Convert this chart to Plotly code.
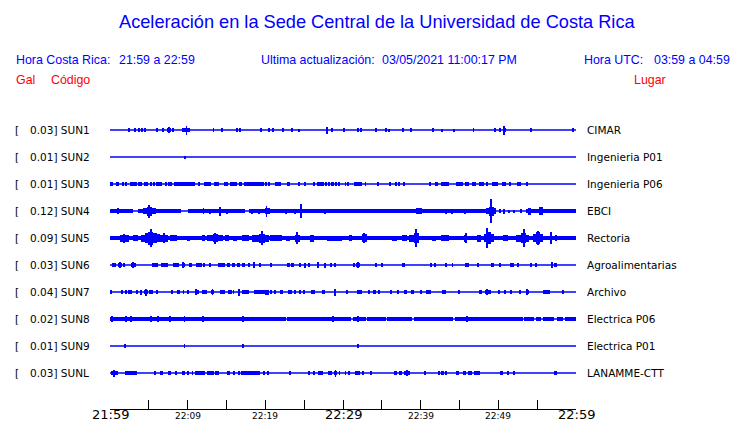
import plotly.graph_objects as go

# ---------------- data ----------------
STATIONS = ["SUN1", "SUN2", "SUN3", "SUN4", "SUN5", "SUN6", "SUN7", "SUN8", "SUN9", "SUNL"]
SCALES = ["0.03", "0.01", "0.01", "0.12", "0.09", "0.03", "0.04", "0.02", "0.01", "0.03"]
PLACES = ["CIMAR", "Ingenieria P01", "Ingenieria P06", "EBCI", "Rectoria",
          "Agroalimentarias", "Archivo", "Electrica P06", "Electrica P01", "LANAMME-CTT"]

TICK_MINUTES = [0, 5, 10, 15, 20, 25, 30, 35, 40, 45, 50, 55, 60]
LABEL_MINUTES = [0, 10, 20, 30, 40, 50, 60]
LABEL_TEXTS = ["21:59", "22:09", "22:19", "22:29", "22:39", "22:49", "22:59"]
MAJOR_LABELS = ["21:59", "22:29", "22:59"]

TITLE = "Aceleración en la Sede Central de la Universidad de Costa Rica"

# activity envelopes: (start minute, end minute, half amplitude)
SUN1 = [(2.50, 2.50, 2), (3.23, 3.23, 2), (3.65, 3.85, 2), (4.09, 4.09, 2), (4.52, 4.52, 2),
        (6.11, 6.11, 2), (6.88, 6.88, 2), (7.35, 7.9, 2.2), (7.6, 7.6, 3), (8.17, 8.17, 2),
        (9.3, 10.3, 2.2), (9.85, 9.85, 4.5), (13.33, 13.33, 2), (14.37, 14.37, 2), (16.34, 16.34, 2),
        (16.77, 16.77, 2), (19.40, 19.40, 2), (20.43, 20.43, 2), (20.9, 21.15, 2), (22.28, 22.28, 2),
        (23.3, 23.6, 2.2), (24.3, 24.3, 1.5), (27.91, 27.91, 3.5), (28.45, 28.75, 2.2), (30.1, 30.1, 2),
        (31.8, 32.1, 2.2), (32.34, 32.34, 2), (34.23, 34.23, 2), (35.57, 35.57, 2), (35.91, 35.91, 1.5),
        (37.72, 37.72, 2), (38.79, 38.79, 2), (41.6, 41.6, 2), (42.8, 42.8, 1.5), (44.3, 44.3, 1.5),
        (46.8, 46.8, 2), (49.55, 49.55, 2), (50.2, 50.2, 2), (50.55, 50.95, 2.2), (50.76, 50.76, 4.5),
        (54.05, 54.35, 2.2), (59.57, 59.57, 2)]

SUN2 = [(9.6, 9.6, 1.5)]

SUN3 = [(0.0, 0.43, 1.8), (0.77, 1.16, 1.8), (1.72, 1.72, 2), (2.02, 2.02, 2), (2.58, 3.44, 1.8),
        (3.66, 4.09, 1.8), (4.43, 4.86, 1.8), (5.16, 5.38, 1.8), (5.72, 5.72, 2), (5.89, 6.75, 1.8),
        (7.1, 7.31, 1.8), (7.61, 7.61, 2), (7.83, 8.04, 1.8), (8.3, 10.97, 1.8), (11.4, 11.6, 1.8),
        (12.13, 13.03, 1.8), (13.33, 13.98, 1.8), (14.71, 15.14, 1.8), (15.48, 16.34, 1.8),
        (16.56, 16.99, 1.8), (17.2, 19.8, 1.8), (20.09, 20.09, 1.8), (20.52, 20.52, 1.8),
        (21.2, 21.72, 1.8), (21.94, 21.94, 1.8), (22.8, 23.14, 1.8), (24.17, 24.5, 1.8),
        (25.16, 25.16, 1.8), (26.24, 26.24, 1.8), (26.67, 27.53, 1.8), (27.83, 27.83, 1.8),
        (28.17, 28.17, 1.8), (28.5, 28.8, 1.8), (29.12, 29.12, 1.8), (29.46, 29.46, 1.8),
        (30.32, 30.32, 1.8), (30.66, 30.66, 1.8), (31.4, 32.47, 1.8), (32.9, 32.9, 1.8),
        (34.53, 34.53, 1.8), (36.0, 36.0, 1.8), (36.86, 36.86, 1.8), (37.2, 37.2, 1.8),
        (37.9, 37.9, 1.8), (41.17, 41.17, 1.8), (41.85, 42.28, 1.8), (42.6, 43.66, 1.8),
        (44.52, 45.17, 1.8), (45.38, 45.38, 1.8), (45.73, 46.24, 1.8), (46.67, 47.1, 1.8),
        (47.45, 48.18, 1.8), (48.6, 48.6, 1.8), (49.12, 49.98, 1.8), (50.46, 50.97, 1.8),
        (51.49, 51.49, 1.8), (52.39, 52.9, 1.8), (53.68, 53.68, 1.8)]

SUN4 = [(0.0, 3.0, 1.7), (3.66, 9.16, 1.7), (10.1, 17.4, 1.7), (17.85, 49.7, 1.7), (53.5, 60.0, 1.7),
        (1.07, 1.07, 3), (4.3, 4.7, 2.8), (4.7, 5.4, 4.5), (5.0, 5.0, 6.5), (5.4, 5.9, 3), (7.1, 7.5, 2.3),
        (7.96, 9.03, 2.2), (12.04, 12.04, 3), (12.9, 12.9, 2.5), (13.98, 14.32, 3), (14.15, 14.15, 4.5),
        (15.05, 15.05, 2.5), (16.34, 17.2, 2.2), (18.28, 18.28, 2.5), (19.2, 19.2, 2.5),
        (19.9, 20.6, 3.2), (20.15, 20.15, 5.5), (22.67, 22.67, 2.5), (23.87, 23.87, 2.5),
        (24.3, 25.16, 2.3), (24.64, 24.64, 7), (27.65, 27.65, 2.5), (28.6, 30.3, 2), (31.2, 32.5, 2.1),
        (32.9, 33.76, 2.1), (34.2, 34.8, 2.1), (35.3, 36.56, 2.1), (37.4, 38.06, 2.1), (39.35, 40.2, 3.2),
        (41.94, 42.8, 2.3), (43.3, 43.3, 2.5), (44.0, 44.0, 2.5), (44.7, 45.17, 2.3), (45.7, 45.7, 2.5),
        (46.24, 46.9, 2.3), (47.3, 48.0, 2.1), (48.4, 49.7, 2.8), (48.8, 49.4, 4.5), (49.05, 49.05, 12),
        (50.1, 50.3, 1.7), (50.76, 50.76, 2.5), (51.4, 51.4, 1.5), (52.0, 52.0, 1.5), (52.9, 53.1, 2),
        (53.77, 54.2, 3.5), (55.27, 55.7, 4), (56.8, 57.4, 2.3), (58.3, 59.6, 2.1)]

SUN5 = [(0.0, 60.0, 2), (1.3, 2.4, 3.5), (1.8, 1.8, 4.5), (3.0, 3.66, 2.8), (4.0, 4.5, 3.5), (4.5, 4.9, 5),
        (4.9, 5.6, 6.5), (5.3, 5.3, 9), (5.6, 6.0, 5), (6.0, 6.4, 4), (6.4, 7.53, 3.5), (6.9, 6.9, 5),
        (7.75, 8.6, 2.8), (9.9, 10.35, 2.5), (11.8, 12.26, 2.8), (12.47, 14.6, 3), (13.2, 13.9, 4),
        (13.55, 13.55, 5.5), (14.8, 15.3, 2.8), (15.9, 16.35, 2.5), (17.0, 17.85, 2.8), (18.28, 19.2, 3.5),
        (19.2, 20.0, 4.5), (19.6, 19.6, 7), (20.0, 20.43, 3.5), (20.65, 22.15, 2.8), (22.6, 23.2, 2.5),
        (23.78, 24.5, 3.5), (24.1, 24.1, 6), (25.8, 26.24, 3.5), (27.96, 29.9, 2.5), (30.75, 31.2, 2.8),
        (32.47, 33.1, 3.8), (32.75, 32.75, 5), (36.35, 37.0, 2.5), (37.6, 38.3, 3.2), (38.5, 39.1, 3.5),
        (39.1, 39.8, 5), (39.35, 39.35, 9), (41.5, 41.95, 2.5), (42.6, 43.66, 2.8), (45.6, 46.0, 3.5),
        (45.8, 45.8, 5), (47.3, 47.75, 3.5), (48.18, 48.45, 4), (48.45, 49.1, 6), (48.6, 48.6, 10),
        (49.1, 49.47, 4), (50.54, 51.2, 2.8), (52.26, 52.9, 3.5), (52.9, 53.6, 5), (53.3, 53.3, 9),
        (53.6, 53.98, 3.5), (54.4, 54.8, 4), (54.8, 55.4, 6), (55.05, 55.05, 7), (55.4, 55.7, 4),
        (56.78, 56.78, 6), (57.4, 57.4, 3)]

SUN6 = [(0.3, 0.73, 1.8), (1.0, 1.6, 1.8), (1.33, 1.33, 3), (1.85, 1.85, 1.8), (2.71, 3.35, 1.8),
        (3.0, 3.0, 3), (5.38, 6.24, 1.8), (6.58, 7.44, 1.8), (8.17, 8.82, 1.8), (9.25, 9.68, 1.8),
        (9.45, 9.45, 3), (10.2, 10.6, 1.8), (11.05, 11.83, 1.8), (12.13, 12.13, 1.8), (12.9, 12.9, 1.8),
        (14.0, 14.0, 1.8), (14.2, 14.8, 1.8), (15.05, 15.48, 1.8), (15.7, 16.1, 1.8), (16.34, 16.77, 1.8),
        (17.0, 17.4, 1.8), (17.85, 17.85, 1.8), (18.5, 18.5, 3), (19.2, 19.5, 1.8), (20.73, 20.73, 1.8),
        (22.8, 23.14, 1.8), (23.35, 23.7, 1.8), (24.5, 24.5, 1.8), (25.07, 25.07, 2.5), (25.6, 25.6, 1.8),
        (26.8, 26.8, 3), (27.74, 27.74, 2.5), (28.4, 28.4, 1.8), (28.95, 28.95, 1.8), (31.4, 31.4, 1.8),
        (31.7, 32.25, 1.8), (31.95, 31.95, 3), (34.2, 34.2, 1.8), (35.05, 35.05, 1.8), (37.6, 37.97, 1.8),
        (41.3, 41.3, 1.8), (41.85, 41.85, 1.8), (43.15, 43.45, 1.8), (44.1, 44.1, 1.8), (45.65, 45.95, 1.8),
        (46.15, 46.15, 1.8), (47.4, 47.4, 1.8), (49.1, 49.4, 1.8), (50.2, 50.2, 1.8), (51.5, 52.0, 1.8),
        (52.4, 52.7, 1.8), (54.2, 54.2, 1.8), (54.85, 54.85, 1.8), (56.9, 56.9, 3), (57.2, 57.6, 1.8)]

SUN7 = [(0.0, 0.3, 1.8), (1.6, 1.6, 1.8), (2.02, 2.02, 1.8), (2.37, 2.8, 2.3), (3.44, 3.44, 1.8),
        (3.87, 4.17, 2.5), (4.43, 4.86, 2.3), (4.64, 4.64, 3.5), (5.16, 5.16, 1.8), (5.38, 5.38, 1.8),
        (5.89, 6.24, 1.8), (7.96, 7.96, 1.8), (8.6, 9.03, 1.8), (9.46, 9.46, 1.8), (10.1, 10.1, 1.8),
        (10.88, 11.4, 2.3), (11.05, 11.05, 3), (11.83, 12.47, 1.8), (13.03, 13.33, 2.3), (13.2, 13.2, 3),
        (14.2, 14.75, 2.3), (15.27, 15.27, 1.8), (15.6, 15.6, 1.8), (15.9, 15.9, 1.8), (16.47, 16.77, 2.5),
        (16.6, 16.6, 3.5), (17.0, 17.85, 1.8), (18.5, 20.0, 1.8), (20.0, 20.43, 2.5), (20.77, 20.77, 1.8),
        (21.2, 21.2, 1.8), (21.94, 22.24, 1.8), (22.92, 23.44, 2.3), (23.78, 23.78, 1.8), (24.5, 24.5, 1.8),
        (24.95, 24.95, 1.8), (25.94, 26.45, 2.3), (27.3, 27.65, 1.8), (28.8, 29.1, 2.5), (28.95, 28.95, 3.5),
        (30.5, 30.5, 1.8), (31.8, 32.47, 2.3), (33.4, 33.4, 1.8), (33.85, 34.28, 1.8), (34.6, 34.8, 1.8),
        (36.0, 36.26, 1.8), (37.1, 37.1, 1.8), (37.85, 38.28, 1.8), (38.8, 39.14, 1.8), (40.0, 40.0, 1.8),
        (40.65, 41.3, 1.8), (42.7, 43.3, 1.8), (44.95, 44.95, 1.8), (47.45, 47.96, 2.3), (48.3, 49.04, 2.3),
        (48.6, 48.6, 3), (50.11, 50.11, 1.8), (50.9, 50.9, 1.8), (51.6, 51.6, 1.8), (52.82, 52.82, 1.8),
        (53.5, 54.0, 2.3), (53.7, 53.7, 3), (55.7, 56.65, 2.3), (58.3, 58.3, 1.8)]

SUN8 = [(0.0, 22.6, 1.8), (22.8, 30.97, 1.8), (31.3, 32.9, 1.8), (33.1, 35.5, 1.8), (35.7, 38.9, 1.8),
        (39.1, 44.1, 1.8), (44.45, 53.12, 1.8), (53.34, 54.63, 1.8), (54.85, 55.5, 1.8), (55.7, 57.2, 1.8),
        (57.5, 58.3, 1.8), (58.6, 60.0, 1.8),
        (0.2, 0.2, 2.7), (2.02, 2.02, 2.7), (2.71, 2.71, 2.7), (5.29, 5.29, 2.7), (6.15, 6.15, 2.7),
        (7.74, 7.74, 2.7), (9.59, 9.59, 2.7), (11.92, 11.92, 2.7), (17.07, 17.07, 2.7), (28.69, 28.69, 2.7),
        (31.95, 31.95, 2.7), (46.0, 46.0, 2.7)]

SUN9 = [(1.95, 1.95, 2), (9.59, 9.59, 2), (17.07, 17.07, 2), (31.85, 32.05, 1.8)]

SUNL = [(0.13, 0.99, 1.8), (0.5, 0.5, 3.5), (1.94, 3.44, 1.8), (5.8, 5.8, 1.8), (6.45, 6.88, 1.8),
        (7.53, 7.53, 1.8), (7.74, 7.74, 1.8), (8.47, 8.47, 1.8), (9.25, 9.68, 1.8), (10.1, 10.1, 1.8),
        (10.62, 10.62, 1.8), (10.97, 12.26, 1.8), (12.47, 13.33, 1.8), (13.63, 13.63, 1.8),
        (13.89, 13.89, 1.8), (15.05, 15.48, 1.8), (15.9, 16.12, 1.8), (16.47, 16.77, 1.8),
        (16.9, 19.35, 1.8), (19.78, 19.78, 1.8), (20.34, 20.34, 1.8), (23.14, 23.14, 1.8),
        (25.5, 25.8, 1.8), (26.24, 26.24, 1.8), (26.8, 27.4, 2.3), (28.1, 28.6, 1.8), (28.8, 29.25, 2.3),
        (29.03, 29.03, 3.5), (29.55, 29.55, 1.8), (30.32, 30.32, 1.8), (30.75, 30.75, 1.8),
        (31.5, 32.25, 1.8), (32.56, 32.56, 1.8), (33.55, 33.55, 1.8), (36.56, 37.0, 1.8), (37.2, 37.63, 1.8),
        (37.85, 38.58, 2.3), (38.2, 38.2, 3), (40.55, 40.55, 1.8), (42.37, 42.37, 1.8), (42.6, 43.0, 1.8),
        (43.3, 43.3, 1.8), (44.6, 44.95, 1.8), (45.47, 45.8, 1.8), (46.15, 46.58, 1.8), (46.9, 47.62, 1.8),
        (50.2, 50.63, 1.8), (51.3, 51.3, 1.8), (51.9, 52.1, 1.8), (57.2, 57.5, 1.8)]

ACTIVITY = [SUN1, SUN2, SUN3, SUN4, SUN5, SUN6, SUN7, SUN8, SUN9, SUNL]

# ---------------- style / layout constants ----------------
W, H = 740, 423
L, R, T, B = 110, 164, 103, 14
PX_PER_ROW = 27.0
AMP_UNIT = 1.0 / PX_PER_ROW
MIN_W = 0.12
BLUE = "#0000ff"
RED = "#ff0000"
PLOT_W = W - L - R
PLOT_H = H - T - B
N = len(STATIONS)
Y_TOP = (130 - T) / PX_PER_ROW
Y_BOT = -(H - B - 130) / PX_PER_ROW


def px(x):
    return (x - L) / PLOT_W


def py(y):
    return (H - B - y) / PLOT_H


fig = go.Figure()

# baselines
bx, by = [], []
for r in range(N):
    bx += [0, 60, None]
    by += [-r, -r, None]
fig.add_trace(go.Scatter(x=bx, y=by, mode="lines", line=dict(color=BLUE, width=1.3),
                         hoverinfo="skip", showlegend=False))

# activity envelopes
for r, act in enumerate(ACTIVITY):
    xs, ws, bases, hs = [], [], [], []
    for t0, t1, a in act:
        xs.append((t0 + t1) / 2)
        ws.append(max(t1 - t0, MIN_W))
        bases.append(-r - a * AMP_UNIT)
        hs.append(2 * a * AMP_UNIT)
    fig.add_trace(go.Bar(x=xs, y=hs, base=bases, width=ws, marker=dict(color=BLUE, line=dict(width=0)),
                         hoverinfo="skip", showlegend=False))

ann = []
# title
ann.append(dict(text=TITLE, x=px(376.5), y=py(22), xref="paper", yref="paper", showarrow=False,
                xanchor="center", yanchor="middle",
                font=dict(family="Liberation Sans, Arial", size=18.2, color=BLUE)))
hdr = [("Hora Costa Rica:", 13.6), ("21:59 a 22:59", 116.6), ("Ultima actualización:", 259.4),
       ("03/05/2021 11:00:17 PM", 380), ("Hora UTC:", 581.5), ("03:59 a 04:59", 651.7)]
for txt, x in hdr:
    ann.append(dict(text=txt, x=px(x), y=py(60), xref="paper", yref="paper", showarrow=False,
                    xanchor="left", yanchor="middle",
                    font=dict(family="Liberation Sans, Arial", size=12.4, color=BLUE)))
for txt, x in [("Gal", 13.6), ("Código", 48.8), ("Lugar", 632)]:
    ann.append(dict(text=txt, x=px(x), y=py(80), xref="paper", yref="paper", showarrow=False,
                    xanchor="left", yanchor="middle",
                    font=dict(family="Liberation Sans, Arial", size=12.4, color=RED)))

lab_font = dict(family="DejaVu Sans", size=10.5, color="black")
for r in range(N):
    ann.append(dict(text="[", x=px(13), y=-r, xref="paper", yref="y", showarrow=False,
                    xanchor="left", yanchor="middle", font=lab_font))
    ann.append(dict(text=f"{SCALES[r]}] {STATIONS[r]}", x=px(27.5), y=-r, xref="paper", yref="y",
                    showarrow=False, xanchor="left", yanchor="middle", font=lab_font))
    ann.append(dict(text=PLACES[r], x=px(585), y=-r, xref="paper", yref="y", showarrow=False,
                    xanchor="left", yanchor="middle", font=lab_font))

for m, txt in zip(LABEL_MINUTES, LABEL_TEXTS):
    big = txt in MAJOR_LABELS
    ann.append(dict(text=txt, x=m, y=0, xref="x", yref="paper", showarrow=False,
                    xanchor="center", yanchor="top", yshift=4 if big else 0,
                    font=dict(family="DejaVu Sans", size=13 if big else 9, color="black")))

fig.update_layout(
    width=W, height=H, margin=dict(l=L, r=R, t=T, b=B),
    paper_bgcolor="white", plot_bgcolor="white",
    barmode="overlay", bargap=0, showlegend=False,
    annotations=ann,
    xaxis=dict(range=[0, 60], showgrid=False, zeroline=False, showline=True, linecolor="black",
               linewidth=1, ticks="inside", ticklen=9, tickwidth=1, tickcolor="black",
               tickvals=TICK_MINUTES, showticklabels=False, fixedrange=True),
    yaxis=dict(range=[Y_BOT, Y_TOP], visible=False, fixedrange=True),
)

fig.write_html("out.html", config={"displayModeBar": False},
               post_script="document.body.style.margin='0';document.body.style.overflow='hidden';")
